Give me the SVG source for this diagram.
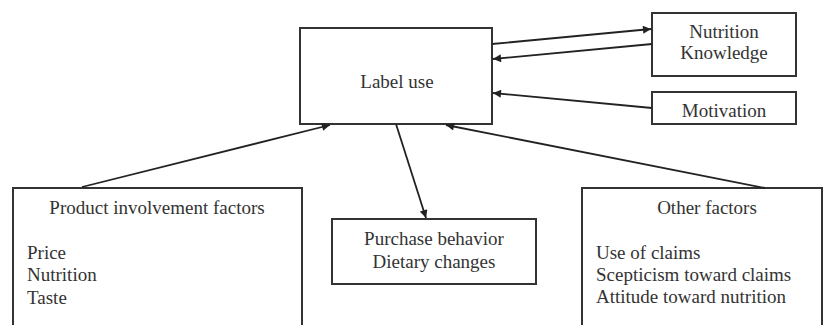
<svg xmlns="http://www.w3.org/2000/svg" width="834" height="325" viewBox="0 0 834 325">
<defs>
<marker id="ah" viewBox="0 0 10 10" refX="10" refY="5" markerWidth="10" markerHeight="8" markerUnits="userSpaceOnUse" orient="auto">
<path d="M0,0 L10,5 L0,10 z" fill="#222"/>
</marker>
</defs>
<style>
rect{fill:#fff;stroke:#333;stroke-width:2}
text{font-family:"Liberation Serif","Times New Roman",serif;font-size:19px;fill:#333}
.c{text-anchor:middle}
.e line{stroke:#222;stroke-width:1.8;marker-end:url(#ah)}
</style>
<rect x="0" y="0" width="834" height="325" style="stroke:none;fill:#fff"/>
<g id="label-use"><rect x="300" y="28" width="192" height="96"/><text class="c" x="397" y="88">Label use</text></g>
<g id="nutrition-knowledge"><rect x="652" y="13" width="144" height="63"/><text class="c" x="724" y="38">Nutrition</text><text class="c" x="724" y="59">Knowledge</text></g>
<g id="motivation"><rect x="652" y="92" width="144" height="32"/><text class="c" x="724" y="117">Motivation</text></g>
<g id="product"><rect x="13" y="188" width="289" height="160"/><text class="c" x="157" y="214">Product involvement factors</text><text x="27" y="259">Price</text><text x="27" y="281">Nutrition</text><text x="27" y="304">Taste</text></g>
<g id="purchase"><rect x="332" y="219" width="204" height="65"/><text class="c" x="434" y="245">Purchase behavior</text><text class="c" x="434" y="268">Dietary changes</text></g>
<g id="other"><rect x="582" y="188" width="240" height="160"/><text class="c" x="707" y="214">Other factors</text><text x="596" y="259">Use of claims</text><text x="596" y="281">Scepticism toward claims</text><text x="596" y="303">Attitude toward nutrition</text></g>
<g id="connectors" class="e">
<line x1="492" y1="44" x2="651" y2="29"/>
<line x1="652" y1="44" x2="493" y2="59"/>
<line x1="652" y1="108" x2="493" y2="93"/>
<line x1="82" y1="187" x2="330" y2="125"/>
<line x1="396" y1="124" x2="426" y2="218"/>
<line x1="765" y1="188" x2="446" y2="125"/>
</g>
</svg>
